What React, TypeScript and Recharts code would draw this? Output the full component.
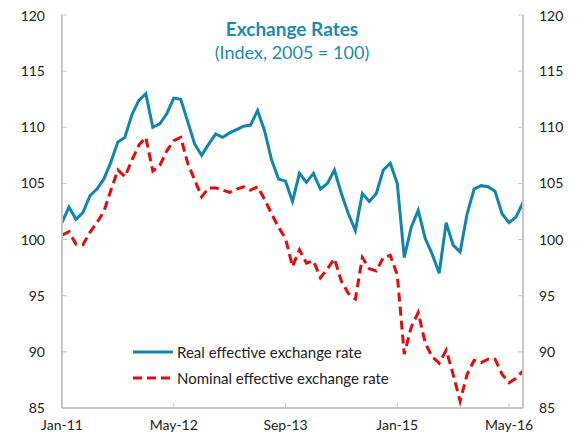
import React from "react";
import { LineChart, Line, XAxis, YAxis } from "recharts";

const months: string[] = [
  "Jan-11","Feb-11","Mar-11","Apr-11","May-11","Jun-11","Jul-11","Aug-11","Sep-11","Oct-11","Nov-11","Dec-11",
  "Jan-12","Feb-12","Mar-12","Apr-12","May-12","Jun-12","Jul-12","Aug-12","Sep-12","Oct-12","Nov-12","Dec-12",
  "Jan-13","Feb-13","Mar-13","Apr-13","May-13","Jun-13","Jul-13","Aug-13","Sep-13","Oct-13","Nov-13","Dec-13",
  "Jan-14","Feb-14","Mar-14","Apr-14","May-14","Jun-14","Jul-14","Aug-14","Sep-14","Oct-14","Nov-14","Dec-14",
  "Jan-15","Feb-15","Mar-15","Apr-15","May-15","Jun-15","Jul-15","Aug-15","Sep-15","Oct-15","Nov-15","Dec-15",
  "Jan-16","Feb-16","Mar-16","Apr-16","May-16","Jun-16","Jul-16",
];

const realRate: number[] = [
  101.5, 102.9, 101.8, 102.4, 103.9, 104.5, 105.4, 106.9, 108.7, 109.1, 111.1, 112.4,
  113.0, 110.0, 110.3, 111.2, 112.6, 112.5, 110.5, 108.5, 107.5, 108.5, 109.4, 109.1,
  109.5, 109.8, 110.1, 110.2, 111.5, 109.7, 107.1, 105.4, 105.2, 103.4, 105.9, 105.1,
  105.9, 104.5, 105.0, 106.2, 104.1, 102.3, 100.8, 104.1, 103.4, 104.1, 106.2, 106.8,
  105.0, 98.4, 101.1, 102.6, 100.1, 98.7, 97.0, 101.5, 99.5, 98.9, 102.3, 104.5,
  104.8, 104.7, 104.3, 102.3, 101.5, 102.0, 103.3,
];

const nominalRate: number[] = [
  100.4, 100.7, 99.6, 99.55, 100.65, 101.5, 102.5, 104.4, 106.2, 105.6, 107.05, 108.4,
  109.1, 106.1, 106.6, 107.9, 108.8, 109.1, 106.8, 105.3, 103.8, 104.6, 104.6, 104.4,
  104.2, 104.5, 104.7, 104.4, 104.7, 103.6, 102.3, 101.1, 100.1, 97.6, 99.1, 97.9,
  98.1, 96.6, 97.4, 98.3, 96.3, 95.2, 94.7, 98.4, 97.4, 97.2, 98.4, 98.6,
  96.85, 89.8, 92.2, 93.5, 90.8, 89.55, 89.0, 90.15, 88.0, 85.6, 88.0, 89.25,
  89.05, 89.35, 89.35, 88.0, 87.25, 87.65, 88.3,
];

const xTicks: string[] = ["Jan-11", "May-12", "Sep-13", "Jan-15", "May-16"];
const yTicks: number[] = [85, 90, 95, 100, 105, 110, 115, 120];

const seriesNames = {
  real: "Real effective exchange rate",
  nominal: "Nominal effective exchange rate",
};

const data = months.map((m, i) => ({ m, real: realRate[i], nominal: nominalRate[i] }));

const BLUE = "#0e86b0";
const RED = "#e60a0a";
const FRAME = "#c6c6c6";
const FONT = "Lato, 'Noto Sans', sans-serif";

const tickStyle = { fill: "#222", fontSize: 14, fontFamily: FONT };

export default function App() {
  return (
    <div style={{ position: "relative", width: 569, height: 430 }}>
      <LineChart width={569} height={430} data={data} margin={{ top: 7, right: 0, bottom: 0, left: 0 }}>
        <XAxis
          dataKey="m"
          ticks={xTicks}
          interval={0}
          height={30}
          tickSize={-5}
          tickMargin={17}
          tick={tickStyle}
          axisLine={{ stroke: FRAME, strokeWidth: 2 }}
          tickLine={{ stroke: FRAME, strokeWidth: 1 }}
        />
        <XAxis
          xAxisId="top"
          dataKey="m"
          orientation="top"
          height={0}
          tick={false}
          tickLine={false}
          axisLine={{ stroke: FRAME, strokeWidth: 2 }}
        />
        <YAxis
          yAxisId="left"
          domain={[85, 120]}
          ticks={yTicks}
          width={54}
          tickSize={-5}
          tickMargin={22}
          tick={tickStyle}
          axisLine={{ stroke: FRAME, strokeWidth: 2 }}
          tickLine={{ stroke: FRAME, strokeWidth: 1 }}
        />
        <YAxis
          yAxisId="right"
          orientation="right"
          domain={[85, 120]}
          ticks={yTicks}
          width={54}
          tickSize={-5}
          tickMargin={21}
          tick={{ ...tickStyle, textAnchor: "start" }}
          axisLine={{ stroke: FRAME, strokeWidth: 2 }}
          tickLine={{ stroke: FRAME, strokeWidth: 1 }}
        />
        <Line
          xAxisId="top"
          yAxisId="right"
          type="linear"
          dataKey="real"
          stroke="none"
          strokeWidth={0}
          dot={false}
          activeDot={false}
          legendType="none"
          isAnimationActive={false}
        />
        <Line
          yAxisId="left"
          type="linear"
          dataKey="real"
          name={seriesNames.real}
          stroke={BLUE}
          strokeWidth={3}
          dot={false}
          isAnimationActive={false}
        />
        <Line
          yAxisId="left"
          type="linear"
          dataKey="nominal"
          name={seriesNames.nominal}
          stroke={RED}
          strokeWidth={3}
          strokeDasharray="9 5"
          dot={false}
          isAnimationActive={false}
        />
      </LineChart>
      <div
        style={{
          position: "absolute",
          left: 125,
          top: 331,
          fontFamily: FONT,
          fontSize: 15,
          color: "#222",
          lineHeight: "26px",
        }}
      >
        <div style={{ display: "flex", alignItems: "center" }}>
          <svg width={44} height={10}>
            <line x1={0} y1={5} x2={40} y2={5} stroke={BLUE} strokeWidth={3} />
          </svg>
          <span>{seriesNames.real}</span>
        </div>
        <div style={{ display: "flex", alignItems: "center" }}>
          <svg width={44} height={10}>
            <line x1={0} y1={5} x2={40} y2={5} stroke={RED} strokeWidth={3} strokeDasharray="9 5" />
          </svg>
          <span>{seriesNames.nominal}</span>
        </div>
      </div>
      <div style={{ position: "absolute", left: 134, width: 300, textAlign: "center", top: 9, fontFamily: FONT, color: "#1a8ab6", fontWeight: 700, fontSize: 19 }}>
        Exchange Rates
      </div>
      <div style={{ position: "absolute", left: 134, width: 300, textAlign: "center", top: 33, fontFamily: FONT, color: "#1a8ab6", fontSize: 18 }}>
        (Index, 2005 = 100)
      </div>
    </div>
  );
}
